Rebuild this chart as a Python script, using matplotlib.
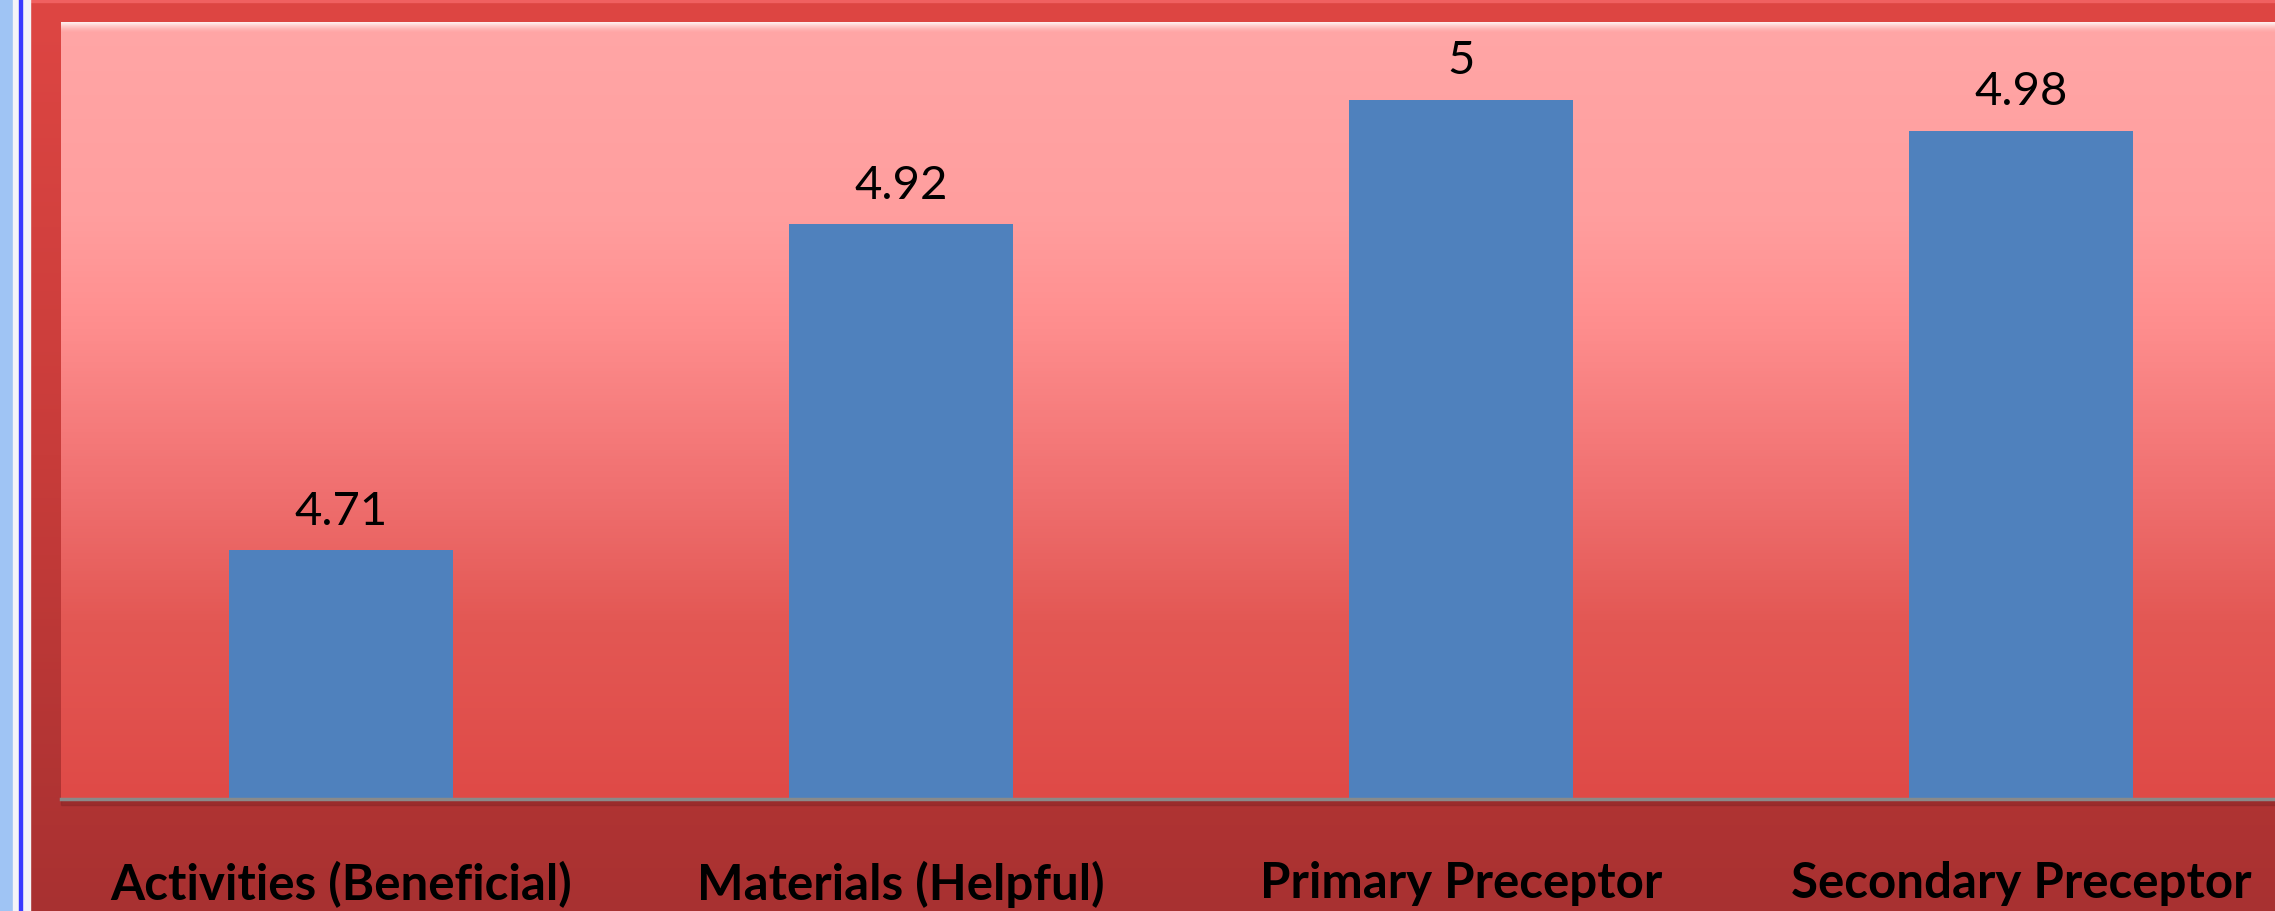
import numpy as np
import matplotlib.pyplot as plt
from matplotlib.colors import LinearSegmentedColormap
from matplotlib.patches import Rectangle

# data
categories = ["Activities (Beneficial)", "Materials (Helpful)",
              "Primary Preceptor", "Secondary Preceptor"]
scores = [4.71, 4.92, 5, 4.98]

W, H = 2275, 912
fig = plt.figure(figsize=(W / 100, H / 100), dpi=100)

# background frame (red gradient + left window strip)
bg = fig.add_axes([0, 0, 1, 1])
bg.set_xlim(0, W)
bg.set_ylim(H, 0)
bg.axis("off")
frame_cmap = LinearSegmentedColormap.from_list(
    "frame", [(0.0, "#de4643"), (0.5, "#c83c3a"), (1.0, "#a83131")])
bg.imshow(np.linspace(0, 1, 256).reshape(-1, 1), cmap=frame_cmap,
          aspect="auto", extent=(0, W, H, 0), zorder=0)
bg.add_patch(Rectangle((0, 0), W, 3, color="#f06060", zorder=1))
bg.add_patch(Rectangle((0, 0), 13, H, color="#9fc4f4", zorder=1))
bg.add_patch(Rectangle((13, 0), 17, H, color="#f4f4f8", zorder=1))
bg.add_patch(Rectangle((19, 0), 2.5, H, color="#3a3aff", zorder=2))
bg.add_patch(Rectangle((61, 800), W, 6, color="#8c2828", alpha=0.6, zorder=2))

# plot area
ax = fig.add_axes([61 / W, (H - 800) / H, (2301 - 61) / W, 777 / H])
plot_cmap = LinearSegmentedColormap.from_list(
    "plot", [(0.0, "#df4a47"), (0.23, "#e35854"), (0.40, "#f07070"),
             (0.62, "#ff8f8f"), (0.75, "#ff9e9e"), (1.0, "#ffa6a6")])
ax.imshow(np.linspace(1, 0, 256).reshape(-1, 1), cmap=plot_cmap,
          aspect="auto", extent=(0, 1, 0, 1), transform=ax.transAxes, zorder=0)

# bevel highlight along the top edge (white fading into pink)
glow = np.ones((32, 1, 4))
glow[:, 0, 3] = np.linspace(0.9, 0.0, 32) ** 1.5
ax.imshow(glow, aspect="auto", extent=(0, 1, 1 - 11 / 777, 1),
          transform=ax.transAxes, zorder=1)

x = np.arange(len(categories))
bars = ax.bar(x, scores, width=0.4, color="#4f81bd", zorder=2)
ax.set_xlim(-0.5, 3.5)
ax.set_ylim(4.55, 5.05)

for rect, v in zip(bars, scores):
    ax.annotate(f"{v:g}", (rect.get_x() + rect.get_width() / 2, v),
                xytext=(0, 19), textcoords="offset points",
                ha="center", va="baseline", fontsize=34, family="Lato",
                color="black")

ax.set_xticks(x, categories)
for lbl in ax.get_xticklabels():
    lbl.set_fontsize(35.5)
    lbl.set_fontweight("bold")
    lbl.set_family("Lato")
ax.tick_params(axis="x", length=0, pad=44)
ax.set_yticks([])
for side in ["top", "left", "right"]:
    ax.spines[side].set_visible(False)
ax.spines["bottom"].set_color("#8a8a8a")
ax.spines["bottom"].set_linewidth(2.5)
ax.spines["bottom"].set_zorder(4)

fig.savefig("out.png", dpi=100)
